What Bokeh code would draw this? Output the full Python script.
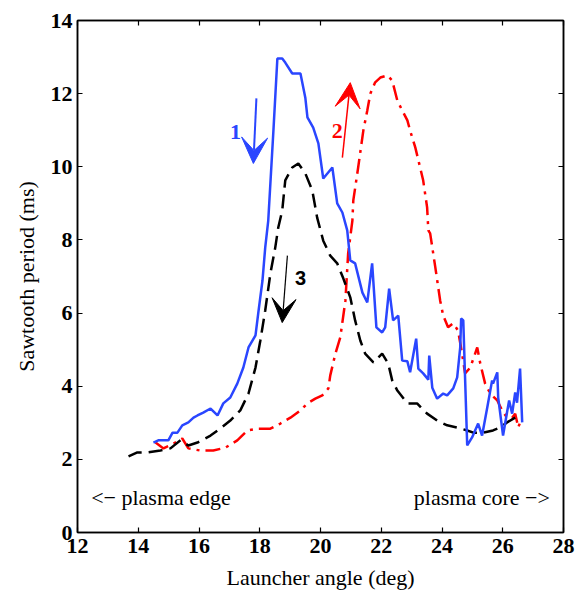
from bokeh.plotting import figure
from bokeh.models import (Range1d, LinearAxis, Label, Arrow, VeeHead, FixedTicker,
                          CustomJSTickFormatter)
from bokeh.embed import file_html
from bokeh.resources import INLINE

# ---- data ----
x_ticks = [12, 14, 16, 18, 20, 22, 24, 26, 28]
y_ticks = [0, 2, 4, 6, 8, 10, 12, 14]

blue_x = [14.5, 14.66, 14.83, 14.99, 15.13, 15.29, 15.45, 15.65, 15.82, 15.95, 16.14, 16.38, 16.61,
          16.8, 17.03, 17.26, 17.46, 17.63, 17.86, 17.95, 18.09, 18.18, 18.28, 18.45, 18.58, 18.74,
          18.84, 19.07, 19.34, 19.5, 19.57, 19.76, 19.93, 20.09, 20.39, 20.55, 20.72, 20.88, 20.98,
          21.14, 21.38, 21.54, 21.7, 21.84, 22.03, 22.13, 22.26, 22.39, 22.56, 22.69, 22.86, 22.95,
          23.15, 23.22, 23.38, 23.55, 23.58, 23.68, 23.84, 24.04, 24.17, 24.37, 24.5, 24.6, 24.63,
          24.7, 24.83, 24.99, 25.19, 25.32, 25.49, 25.65, 25.68, 25.82, 25.85, 26.01, 26.14, 26.21,
          26.31, 26.41, 26.47, 26.57, 26.64]
blue_y = [2.46, 2.52, 2.52, 2.52, 2.73, 2.73, 2.93, 3.01, 3.14, 3.2, 3.28, 3.39, 3.2,
          3.53, 3.69, 4.07, 4.51, 5.06, 5.39, 5.99, 6.89, 7.79, 8.53, 10.99, 12.96, 12.96,
          12.85, 12.55, 12.55, 11.89, 11.35, 11.07, 10.64, 9.68, 9.98, 9.0, 8.75, 8.26, 7.44,
          7.36, 6.56, 6.29, 7.36, 5.61, 5.47, 5.61, 6.67, 5.8, 5.93, 4.7, 4.68, 4.38,
          5.3, 4.48, 4.35, 4.18, 4.84, 3.96, 3.66, 3.8, 3.75, 3.94, 4.24, 5.06, 5.85,
          5.8, 2.38, 2.6, 2.98, 2.65, 3.42, 4.16, 4.07, 4.38, 3.69, 2.65, 3.28, 3.61,
          3.25, 3.83, 3.55, 4.48, 3.01]

black_x = [13.68, 13.97, 14.3, 14.73, 15.06, 15.39, 15.65, 15.95, 16.38, 16.7, 17.03, 17.36, 17.63,
           17.86, 18.02, 18.18, 18.35, 18.51, 18.61, 18.74, 18.84, 19.07, 19.27, 19.5, 19.73, 19.89,
           20.09, 20.32, 20.55, 20.75, 20.98, 21.14, 21.31, 21.47, 21.74, 22.03, 22.23, 22.36, 22.53,
           22.86, 23.18, 23.51, 23.84, 24.17, 24.5, 24.83, 25.03, 25.36, 25.68, 25.91, 26.14, 26.41,
           26.57]
black_y = [2.08, 2.19, 2.19, 2.24, 2.3, 2.52, 2.38, 2.46, 2.65, 2.84, 3.06, 3.34, 3.8,
           4.51, 5.25, 6.07, 7.08, 7.79, 8.34, 8.8, 9.63, 9.98, 10.09, 9.82, 9.35, 8.61,
           7.98, 7.57, 7.36, 6.95, 6.43, 5.8, 5.25, 4.89, 4.65, 4.89, 4.62, 4.16, 3.88,
           3.53, 3.53, 3.25, 3.06, 2.93, 2.87, 2.79, 2.73, 2.73, 2.79, 2.87, 3.01, 3.14,
           3.06]

red_x = [14.57, 14.83, 15.16, 15.45, 15.65, 16.05, 16.47, 16.87, 17.26, 17.59, 17.92, 18.35, 18.68,
         19.01, 19.34, 19.57, 19.83, 20.06, 20.26, 20.32, 20.49, 20.65, 20.82, 20.91, 21.05, 21.08,
         21.24, 21.41, 21.54, 21.64, 21.8, 21.97, 22.2, 22.36, 22.53, 22.69, 22.86, 22.95, 23.12,
         23.28, 23.38, 23.51, 23.55, 23.61, 23.78, 23.94, 24.04, 24.2, 24.37, 24.53, 24.66, 24.76,
         24.93, 25.09, 25.16, 25.26, 25.42, 25.59, 25.82, 25.98, 26.14, 26.31, 26.41, 26.51, 26.57]
red_y = [2.46, 2.3, 2.43, 2.57, 2.3, 2.24, 2.24, 2.32, 2.52, 2.79, 2.84, 2.84, 2.98,
         3.14, 3.34, 3.53, 3.66, 3.75, 3.94, 4.29, 4.89, 5.33, 6.34, 7.63, 8.53, 9.08,
         9.98, 10.99, 11.54, 12.0, 12.31, 12.44, 12.5, 12.36, 11.81, 11.54, 11.27, 10.99, 10.53,
         9.98, 9.63, 8.89, 8.26, 8.18, 7.25, 6.34, 5.93, 5.61, 5.72, 5.52, 4.89, 4.35,
         4.51, 4.89, 5.06, 4.62, 4.07, 3.8, 3.61, 3.34, 3.14, 3.14, 3.25, 2.87, 3.01]

BLUE = "#2a46ff"
RED = "#ff0000"
FONT = "Liberation Serif"
FS = "22px"

p = figure(width=575, height=592, x_range=Range1d(12, 28), y_range=Range1d(0, 14),
           output_backend="svg", toolbar_location=None,
           min_border_left=77, min_border_right=12, min_border_top=20, min_border_bottom=60)
p.grid.visible = False
p.outline_line_color = "black"
p.outline_line_width = 1.5
p.background_fill_color = "white"
p.border_fill_color = "white"

for ax, tk in ((p.xaxis[0], x_ticks), (p.yaxis[0], y_ticks)):
    ax.ticker = FixedTicker(ticks=tk)
    ax.major_tick_in = 5
    ax.major_tick_out = 0
    ax.minor_tick_line_color = None
    ax.axis_line_width = 1.5
    ax.major_tick_line_width = 1.2
    ax.major_label_text_font = FONT
    ax.major_label_text_font_size = FS
    ax.major_label_text_font_style = "bold"
    ax.major_label_text_color = "black"
    ax.axis_label_text_font = FONT
    ax.axis_label_text_font_size = FS
    ax.axis_label_text_font_style = "normal"
    ax.axis_label_text_color = "black"

p.xaxis.axis_label = "Launcher angle (deg)"
p.yaxis.axis_label = "Sawtooth period (ms)"
p.xaxis.major_label_standoff = 6
p.yaxis.major_label_standoff = 5
p.xaxis.axis_label_standoff = 9
p.yaxis.axis_label_standoff = 9

blank = CustomJSTickFormatter(code="return ' ';")
top = LinearAxis(ticker=FixedTicker(ticks=x_ticks), formatter=blank,
                 major_label_standoff=0, major_tick_in=5, major_tick_out=0,
                 minor_tick_line_color=None, axis_line_width=1.5, major_tick_line_width=1.2,
                 major_label_text_font_size="4px")
right = LinearAxis(ticker=FixedTicker(ticks=y_ticks), formatter=blank,
                   major_label_standoff=0, major_tick_in=5, major_tick_out=0,
                   minor_tick_line_color=None, axis_line_width=1.5, major_tick_line_width=1.2,
                   major_label_text_font_size="4px")
p.add_layout(top, "above")
p.add_layout(right, "right")

p.line(red_x, red_y, line_color=RED, line_width=2.5, line_dash="15 6 3 6")
p.line(black_x, black_y, line_color="black", line_width=2.5, line_dash="14 7")
p.line(blue_x, blue_y, line_color=BLUE, line_width=2.5)

# arrows
p.add_layout(Arrow(x_start=17.89, y_start=11.87, x_end=17.79, y_end=10.09,
                   line_color=BLUE, line_width=2,
                   end=VeeHead(size=26, fill_color=BLUE, line_color=BLUE)))
p.add_layout(Arrow(x_start=20.72, y_start=10.25, x_end=20.98, y_end=12.3,
                   line_color=RED, line_width=1.5,
                   end=VeeHead(size=25, fill_color=RED, line_color=RED)))
p.add_layout(Arrow(x_start=18.91, y_start=7.57, x_end=18.74, y_end=5.74,
                   line_color="black", line_width=1.2,
                   end=VeeHead(size=24, fill_color="black", line_color="black")))

p.add_layout(Label(x=17.2, y=10.94, text="1", text_color=BLUE, text_font=FONT,
                   text_font_size=FS, text_font_style="bold",
                   text_align="center", text_baseline="middle"))
p.add_layout(Label(x=20.55, y=10.99, text="2", text_color=RED, text_font=FONT,
                   text_font_size=FS, text_font_style="bold",
                   text_align="center", text_baseline="middle"))
p.add_layout(Label(x=19.34, y=6.95, text="3", text_color="black", text_font="Liberation Sans",
                   text_font_size="20px", text_font_style="bold",
                   text_align="center", text_baseline="middle"))

p.add_layout(Label(x=12.45, y=0.95, text="<\u2212 plasma edge", text_color="black",
                   text_font=FONT, text_font_size=FS, text_align="left", text_baseline="middle"))
p.add_layout(Label(x=27.55, y=0.95, text="plasma core \u2212>", text_color="black",
                   text_font=FONT, text_font_size=FS, text_align="right", text_baseline="middle"))

open("out.html", "w").write(file_html(p, INLINE))
